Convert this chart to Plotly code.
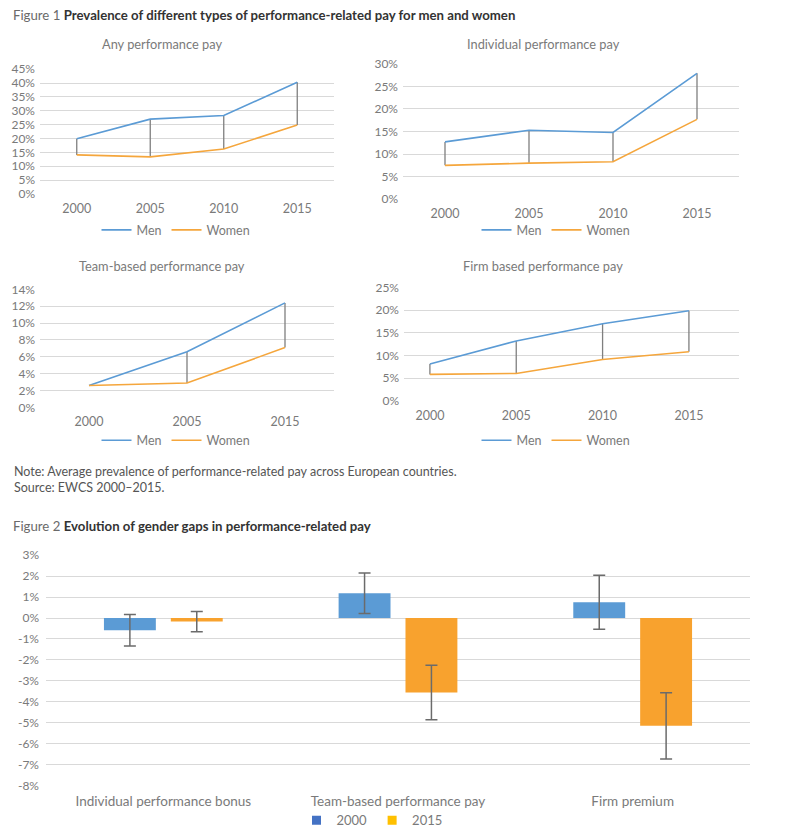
import plotly.graph_objects as go

W, H = 800, 840

# ---------------- data ----------------
years_any = ["2000", "2005", "2010", "2015"]
any_men = [19.9, 27.0, 28.3, 40.3]
any_women = [14.1, 13.4, 16.2, 24.9]

years_ind = ["2000", "2005", "2010", "2015"]
ind_men = [12.7, 15.3, 14.8, 27.9]
ind_women = [7.5, 8.0, 8.3, 17.7]

years_team = ["2000", "2005", "2015"]
team_men = [2.6, 6.6, 12.4]
team_women = [2.6, 2.9, 7.1]

years_firm = ["2000", "2005", "2010", "2015"]
firm_men = [8.1, 13.2, 17.0, 19.9]
firm_women = [5.8, 6.0, 9.1, 10.8]

gap_categories = ["Individual performance bonus", "Team-based performance pay", "Firm premium"]
gap_2000 = [-0.58, 1.18, 0.75]
gap_2000_err = [0.75, 0.97, 1.29]
gap_2015 = [-0.17, -3.55, -5.14]
gap_2015_err = [0.48, 1.30, 1.58]
gap_ticks = [3, 2, 1, 0, -1, -2, -3, -4, -5, -6, -7, -8]
gap_ticktext = [f"{v}%" for v in gap_ticks]

# ---------------- style ----------------
FONT = "Lato, Open Sans, sans-serif"
TICK = "#7a7a7a"
GRID = "#D9D9D9"
MEN = "#5B9BD5"
WOMEN = "#F5A63C"
DROP = "#7F7F7F"


def px(x):
    return x / W


def py(y):
    return 1 - y / H


fig = go.Figure()
layout = {}


def add_panel(n, cats, men, women, xpx, ypx, ymax, dtick, xrange, title, tpos, lpos):
    xa = "x" if n == 1 else f"x{n}"
    ya = "y" if n == 1 else f"y{n}"
    lg = "legend" if n == 1 else f"legend{n}"
    dx, dy = [], []
    for c, m, w in zip(cats, men, women):
        dx += [c, c, None]
        dy += [m, w, None]
    fig.add_trace(go.Scatter(x=dx, y=dy, mode="lines", line=dict(color=DROP, width=1.3),
                             showlegend=False, xaxis=xa, yaxis=ya, hoverinfo="skip"))
    fig.add_trace(go.Scatter(x=cats, y=men, mode="lines", name="Men",
                             line=dict(color=MEN, width=1.6), xaxis=xa, yaxis=ya, legend=lg))
    fig.add_trace(go.Scatter(x=cats, y=women, mode="lines", name="Women",
                             line=dict(color=WOMEN, width=1.6), xaxis=xa, yaxis=ya, legend=lg))
    ext = ymax * 0.004
    layout["xaxis" if n == 1 else f"xaxis{n}"] = dict(
        domain=[px(xpx[0]), px(xpx[1])], anchor=ya, type="category",
        range=xrange, showgrid=False, zeroline=False, showline=False,
        ticks="", ticklabelstandoff=5, tickfont=dict(size=12.5, color=TICK, family=FONT))
    layout["yaxis" if n == 1 else f"yaxis{n}"] = dict(
        domain=[py(ypx[1]), py(ypx[0])], anchor=xa, range=[-ext, ymax + ext],
        dtick=dtick, tick0=0, ticksuffix="%", showgrid=True, gridcolor=GRID, gridwidth=1,
        zeroline=False, showline=False, ticks="", ticklabelstandoff=4,
        tickfont=dict(size=12, color=TICK, family=FONT))
    layout[lg] = dict(orientation="h", x=px(lpos[0]), y=py(lpos[1]), xanchor="center",
                      yanchor="middle", font=dict(size=12.5, color=TICK, family=FONT),
                      bgcolor="rgba(0,0,0,0)", itemwidth=30, tracegroupgap=0)
    fig.add_annotation(text=title, x=px(tpos[0]), y=py(tpos[1]), xref="paper", yref="paper",
                       xanchor="center", yanchor="middle", showarrow=False,
                       font=dict(size=12.8, color="#7a7a7a", family=FONT))


add_panel(1, years_any, any_men, any_women, (40, 334), (62.7, 190.7), 45, 5,
          [-0.5, 3.5], "Any performance pay", (162, 38), (176, 227))
add_panel(2, years_ind, ind_men, ind_women, (403, 739), (57.3, 196), 30, 5,
          [-0.5, 3.5], "Individual performance pay", (543, 38), (556, 227))
add_panel(3, years_team, team_men, team_women, (40, 334), (286.7, 407.7), 14, 2,
          [-0.5, 2.5], "Team-based performance pay", (162, 263), (176, 441))
add_panel(4, years_firm, firm_men, firm_women, (404, 739), (285, 400.7), 25, 5,
          [-0.3, 3.58], "Firm based performance pay", (543, 263), (556, 441))

# ---------------- figure 2 ----------------
fig.add_trace(go.Bar(x=gap_categories, y=gap_2000, name="2000", marker=dict(color="#5B9BD5", line=dict(width=0)),
                     error_y=dict(type="data", array=gap_2000_err, color="#6b6b6b", thickness=1.5, width=6),
                     xaxis="x5", yaxis="y5", showlegend=False, offsetgroup="a"))
fig.add_trace(go.Bar(x=gap_categories, y=gap_2015, name="2015", marker=dict(color="#F8A22E", line=dict(width=0)),
                     error_y=dict(type="data", array=gap_2015_err, color="#6b6b6b", thickness=1.5, width=6),
                     xaxis="x5", yaxis="y5", showlegend=False, offsetgroup="b"))
fig.add_trace(go.Scatter(x=[None], y=[None], mode="markers", name="2000",
                         marker=dict(symbol="square", size=9, color="#4472C4"),
                         xaxis="x5", yaxis="y5", legend="legend5"))
fig.add_trace(go.Scatter(x=[None], y=[None], mode="markers", name="2015",
                         marker=dict(symbol="square", size=9, color="#FFC000"),
                         xaxis="x5", yaxis="y5", legend="legend5"))

layout["xaxis5"] = dict(domain=[px(46), px(750)], anchor="y5", type="category",
                        range=[-0.5, 2.5], showgrid=False, zeroline=False, showline=False,
                        ticks="", ticklabelstandoff=5,
                        tickfont=dict(size=13.5, color=TICK, family=FONT))
layout["yaxis5"] = dict(domain=[py(792.7), py(556.7)], anchor="x5", range=[-8.03, 3.03],
                        tickvals=gap_ticks, ticktext=gap_ticktext, showgrid=True,
                        gridcolor=GRID, gridwidth=1, zeroline=False, showline=False, ticks="",
                        ticklabelstandoff=6, tickfont=dict(size=12, color=TICK, family=FONT))
layout["legend5"] = dict(orientation="h", x=px(372), y=py(827), xanchor="center",
                         yanchor="middle", font=dict(size=13, color=TICK, family=FONT),
                         bgcolor="rgba(0,0,0,0)", itemwidth=30)

# ---------------- text ----------------
fig.add_annotation(text="<span style='color:#6a6a6a'>Figure 1 </span><b>Prevalence of different types of performance-related pay for men and women</b>",
                   x=px(11), y=py(8), xref="paper", yref="paper", xanchor="left", yanchor="middle",
                   showarrow=False, font=dict(size=13.2, color="#333333", family=FONT))
fig.add_annotation(text="Note: Average prevalence of performance-related pay across European countries.<br>Source: EWCS 2000–2015.",
                   x=px(12), y=py(480), xref="paper", yref="paper", xanchor="left", yanchor="middle",
                   align="left", showarrow=False, font=dict(size=12.5, color="#555555", family=FONT))
fig.add_annotation(text="<span style='color:#6a6a6a'>Figure 2 </span><b>Evolution of gender gaps in performance-related pay</b>",
                   x=px(11), y=py(528), xref="paper", yref="paper", xanchor="left", yanchor="middle",
                   showarrow=False, font=dict(size=13.2, color="#333333", family=FONT))

fig.update_layout(width=W, height=H, margin=dict(l=0, r=0, t=0, b=0),
                  plot_bgcolor="white", paper_bgcolor="white",
                  font=dict(family=FONT), barmode="group", bargap=0.43, bargroupgap=0.224,
                  hovermode=False, **layout)

fig.write_html(
    "out.html",
    config={"displayModeBar": False},
    post_script=(
        "document.body.style.margin='0';"
        "var gd=document.getElementById('{plot_id}');"
        "gd.style.position='fixed';gd.style.left='0px';gd.style.top='0px';"
    ),
)
